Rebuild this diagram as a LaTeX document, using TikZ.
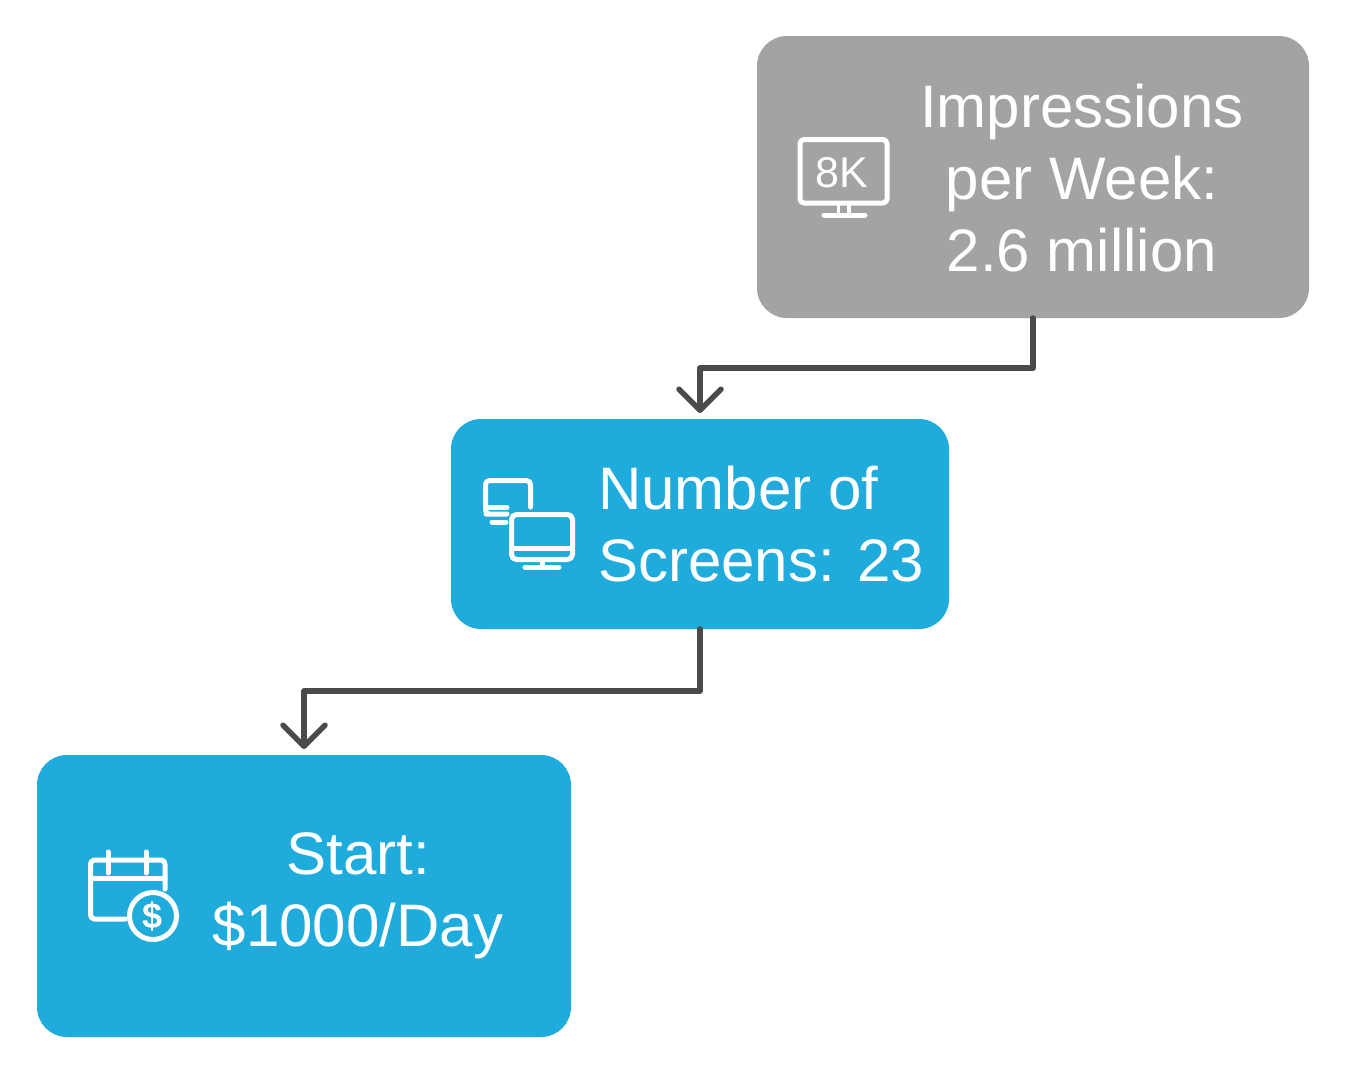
\documentclass[tikz,border=0pt]{standalone}
\usepackage{fontspec}
\setmainfont{Liberation Sans}
\usetikzlibrary{arrows.meta}
\definecolor{boxgrey}{HTML}{A3A3A3}
\definecolor{boxblue}{HTML}{1FABDB}
\definecolor{linkgrey}{HTML}{4A4A4A}
\tikzset{
  x=1pt,y=-1pt,
  card/.style={rounded corners=30pt,inner sep=0pt,outer sep=0pt,draw=none},
  label/.style={text=white,inner sep=0pt,align=center,font=\fontsize{60}{72}\selectfont},
  link/.style={draw=linkgrey,line width=5.5pt,line join=round,line cap=round,shorten >=6pt,
    -{Straight Barb[round,length=21pt,width=42pt,line width=5.5pt]}},
  icon/.style={draw=white,line width=5pt,line cap=round,line join=round,fill=none}
}
\begin{document}
\begin{tikzpicture}
\useasboundingbox (0,0) rectangle (1347,1074);
\fill[white] (0,0) rectangle (1347,1074);
\node[card,fill=boxgrey,minimum width=552pt,minimum height=282pt] (imp) at (1033,177) {};
\node[card,fill=boxblue,minimum width=498pt,minimum height=210pt] (scr) at (700,524) {};
\node[card,fill=boxblue,minimum width=534pt,minimum height=282pt] (start) at (304,896) {};

\node[label] (imptext) at (1082,178) {Impressions\\per Week:\\2.6 million};
\node[label,align=left,anchor=west] (scrtext) at (598,524) {Number of\\Screens: 23};
\node[label] (starttext) at (358,896) {Start:\\\$1000/Day};

\draw[link] (imp.south) -- ++(0,50) -| (scr.north);
\draw[link] (scr.south) -- ++(0,62) -| (start.north);

% 8K monitor icon
\draw[icon,rounded corners=4pt] (800,139.5) rectangle (887,203);
\draw[icon] (824,215) -- (865,215);
\draw[icon,line width=3.5pt,line cap=butt] (838.5,204) -- (838.5,214) (849,204) -- (849,214);
\node[text=white,inner sep=0pt,font=\fontsize{43}{43}\selectfont] (eightk) at (842,173) {8K};

% two screens icon
\draw[icon,rounded corners=4pt] (507,514) -- (490,514) -- (485.5,514) -- (485.5,480.5) -- (530.5,480.5) -- (530.5,507);
\draw[icon] (486,507.5) -- (507,507.5);
\draw[icon] (492,522) -- (506,522);
\draw[icon,rounded corners=5pt] (511.5,514.5) rectangle (572.5,559.5);
\draw[icon] (512,548) -- (572,548);
\draw[icon] (542,560) -- (542,567);
\draw[icon] (525,567) -- (559,567);

% calendar icon
\draw[icon,rounded corners=4pt] (125,919) -- (90.5,919) -- (90.5,860) -- (165,860) -- (165,889);
\draw[icon] (90.5,878) -- (165,878);
\draw[icon] (108,852) -- (108,873);
\draw[icon] (146,852) -- (146,873);
\draw[icon] (153,916) circle (23.5pt);
\node[text=white,inner sep=0pt,font=\bfseries\fontsize{36}{36}\selectfont] (dollar) at (153,916) {\$};
\end{tikzpicture}
\end{document}
